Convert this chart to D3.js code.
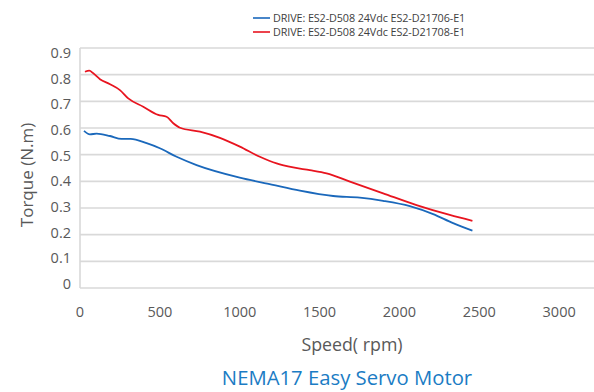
<!DOCTYPE html>
<html>
<head>
<meta charset="utf-8">
<script src="https://cdn.jsdelivr.net/npm/d3@7/dist/d3.min.js"></script>
<style>
  html, body { margin: 0; padding: 0; background: #fff; }
  svg { display: block; }
  text { font-family: "Open Sans", "Noto Sans", sans-serif; }
</style>
</head>
<body>
<svg id="chart" width="594" height="392"></svg>
<script>
// Torque-speed curves, NEMA17 easy servo motor on two drive/motor combinations
const seriesNames = [
  "DRIVE: ES2-D508 24Vdc ES2-D21706-E1",
  "DRIVE: ES2-D508 24Vdc ES2-D21708-E1"
];
const seriesColors = ["#1a68bb", "#e8141f"];

const speedE1706 = [25, 62, 104, 188, 260, 317, 417, 500, 605, 730, 1000, 1200, 1377, 1585, 1752, 1898, 2065, 2211, 2336, 2457];
const torqueE1706 = [0.589, 0.576, 0.579, 0.570, 0.559, 0.559, 0.543, 0.524, 0.492, 0.461, 0.414, 0.388, 0.365, 0.345, 0.339, 0.327, 0.307, 0.277, 0.243, 0.215];

const speedE1708 = [31, 58, 83, 125, 188, 250, 302, 396, 490, 542, 584, 626, 751, 876, 1001, 1126, 1231, 1335, 1439, 1544, 1690, 1898, 2107, 2315, 2457];
const torqueE1708 = [0.811, 0.815, 0.805, 0.783, 0.764, 0.742, 0.711, 0.680, 0.649, 0.642, 0.618, 0.601, 0.586, 0.563, 0.530, 0.492, 0.467, 0.452, 0.442, 0.430, 0.399, 0.355, 0.311, 0.274, 0.252];

const xTicks = [0, 500, 1000, 1500, 2000, 2500, 3000];
const yTicks = [0, 0.1, 0.2, 0.3, 0.4, 0.5, 0.6, 0.7, 0.8, 0.9];

const svg = d3.select("#chart");
const W = 594;

const x = d3.scaleLinear().domain([0, 3500]).range([80, 639]);
const y = d3.scaleLinear().domain([0, 0.9]).range([288, 48]);
// value labels on the torque axis sit on a slightly tighter spacing
const yLab = d3.scaleLinear().domain([0, 0.9]).range([284, 53]);

// horizontal gridlines
svg.append("g").selectAll("line").data(yTicks).join("line")
  .attr("x1", 80).attr("x2", W)
  .attr("y1", d => y(d)).attr("y2", d => y(d))
  .attr("stroke", "#d9d9d9").attr("stroke-width", 1.6);

// vertical axis line
svg.append("line")
  .attr("x1", 80).attr("x2", 80).attr("y1", y(0.9)).attr("y2", y(0))
  .attr("stroke", "#d9d9d9").attr("stroke-width", 1.6);

// torque tick labels
svg.append("g").selectAll("text").data(yTicks).join("text")
  .attr("x", 71).attr("y", d => yLab(d))
  .attr("dy", "0.35em").attr("text-anchor", "end")
  .attr("font-size", 14.5).attr("fill", "#595959")
  .text(d => d3.format("")(+d.toFixed(1)));

// speed tick labels
svg.append("g").selectAll("text").data(xTicks).join("text")
  .attr("x", d => x(d)).attr("y", 312)
  .attr("dy", "0.35em").attr("text-anchor", "middle")
  .attr("font-size", 14.5).attr("fill", "#595959")
  .text(d => d);

// axis titles
svg.append("text")
  .attr("transform", "translate(27,175) rotate(-90)")
  .attr("text-anchor", "middle").attr("dy", "0.35em")
  .attr("font-size", 17).attr("fill", "#595959")
  .text("Torque (N.m)");

svg.append("text")
  .attr("x", 352).attr("y", 345).attr("dy", "0.35em")
  .attr("text-anchor", "middle")
  .attr("font-size", 17.8).attr("fill", "#595959")
  .text("Speed( rpm)");

svg.append("text")
  .attr("x", 347).attr("y", 378).attr("dy", "0.35em")
  .attr("text-anchor", "middle")
  .attr("font-size", 20.3).attr("fill", "#1b7cc4")
  .text("NEMA17 Easy Servo Motor");

// curves
const line = d3.line()
  .x(d => x(d[0])).y(d => y(d[1]))
  .curve(d3.curveMonotoneX);

const series = [
  d3.zip(speedE1706, torqueE1706),
  d3.zip(speedE1708, torqueE1708)
];

svg.append("g").selectAll("path").data(series).join("path")
  .attr("d", line)
  .attr("fill", "none")
  .attr("stroke", (d, i) => seriesColors[i])
  .attr("stroke-width", 1.8)
  .attr("stroke-linejoin", "round");

// legend
const legend = svg.append("g").selectAll("g").data(seriesNames).join("g")
  .attr("transform", (d, i) => `translate(253,${18 + i * 14})`);
legend.append("line")
  .attr("x1", 0).attr("x2", 17).attr("y1", 0).attr("y2", 0)
  .attr("stroke", (d, i) => seriesColors[i]).attr("stroke-width", 1.6);
legend.append("text")
  .attr("x", 20).attr("y", 0).attr("dy", "0.35em")
  .attr("font-size", 10.8).attr("fill", "#404040")
  .attr("letter-spacing", -0.1)
  .text(d => d);
</script>
</body>
</html>
